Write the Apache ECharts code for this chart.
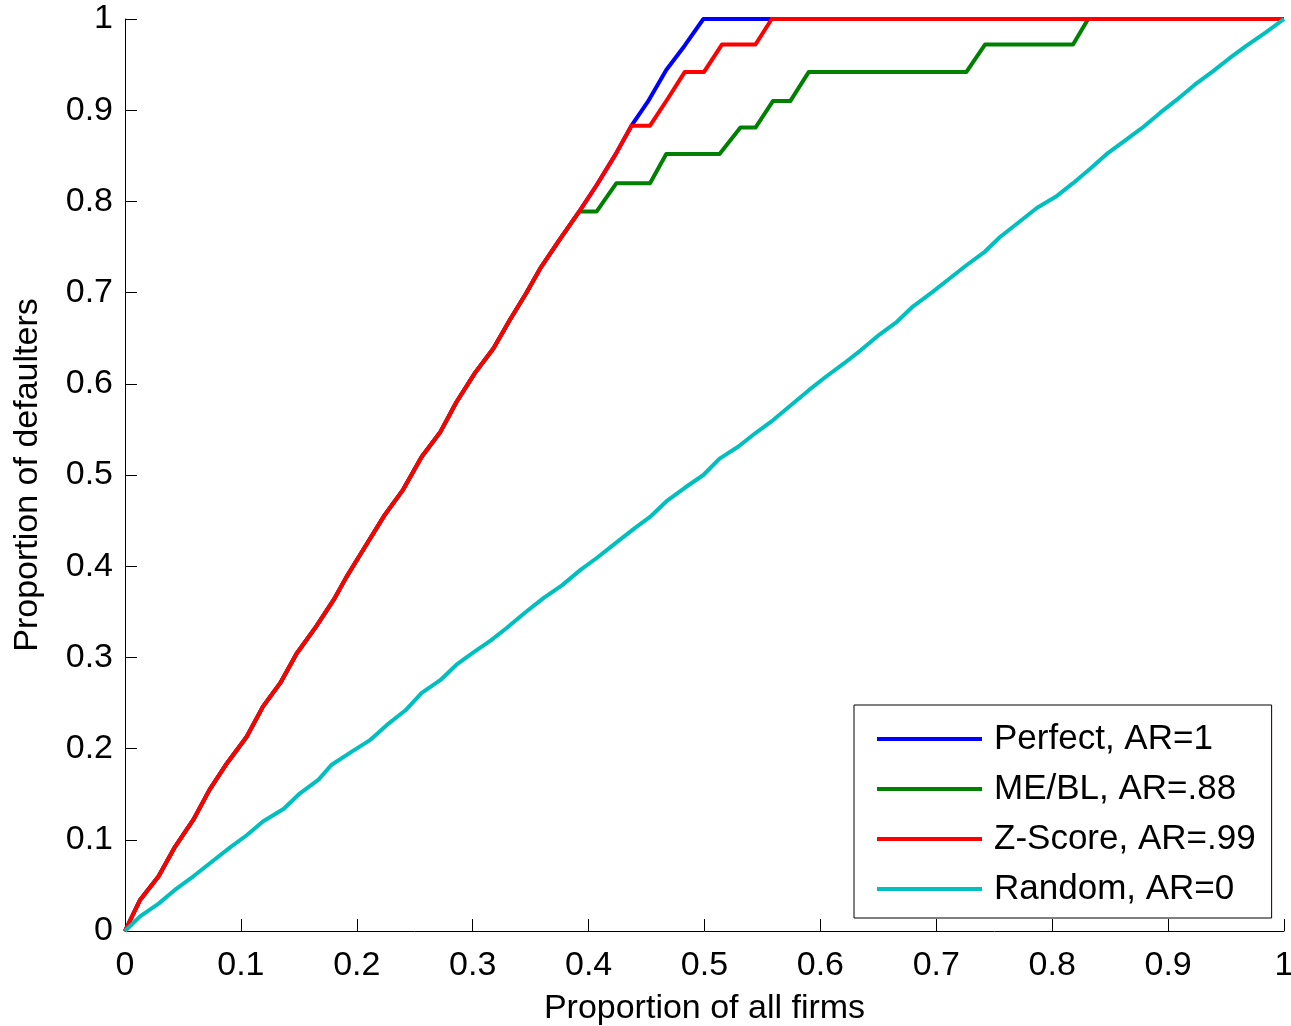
<!DOCTYPE html>
<html>
<head>
<meta charset="utf-8">
<script src="https://cdn.jsdelivr.net/npm/echarts@6/dist/echarts.min.js"></script>
<style>
  html, body { margin: 0; padding: 0; background: #fff; }
  #chart { width: 1291px; height: 1026px; }
</style>
</head>
<body>
<div id="chart"></div>
<script>
// Cumulative accuracy profiles: [proportion of all firms, proportion of defaulters]

// Shared opening segment of the Perfect, ME/BL and Z-Score curves
const sharedStart = [
  [0, 0], [0.013, 0.034], [0.029, 0.060], [0.043, 0.092], [0.059, 0.122],
  [0.073, 0.155], [0.088, 0.184], [0.105, 0.213], [0.119, 0.246], [0.134, 0.272],
  [0.148, 0.304], [0.165, 0.334], [0.180, 0.363], [0.191, 0.388], [0.207, 0.421],
  [0.224, 0.456], [0.240, 0.484], [0.256, 0.520], [0.272, 0.547], [0.286, 0.580],
  [0.302, 0.612], [0.318, 0.639], [0.332, 0.670], [0.346, 0.699], [0.359, 0.728],
  [0.375, 0.758], [0.392, 0.789]
];

// Continuation shared by Perfect and Z-Score
const upperStart = [[0.407, 0.818], [0.423, 0.851], [0.437, 0.883]];

const perfectTail = [
  [0.451, 0.909], [0.467, 0.944], [0.483, 0.971], [0.499, 1.0], [1.0, 1.0]
];

const mebTail = [
  [0.407, 0.789], [0.424, 0.820], [0.453, 0.820], [0.467, 0.852], [0.513, 0.852],
  [0.531, 0.881], [0.544, 0.881], [0.559, 0.910], [0.574, 0.910], [0.590, 0.942],
  [0.726, 0.942], [0.742, 0.972], [0.818, 0.972], [0.831, 1.0], [1.0, 1.0]
];

const zscoreTail = [
  [0.453, 0.883], [0.468, 0.912], [0.483, 0.942], [0.4996, 0.942], [0.515, 0.972],
  [0.544, 0.972], [0.558, 1.0], [1.0, 1.0]
];

const randomCurve = [
  [0, 0], [0.013, 0.016], [0.029, 0.030], [0.043, 0.045], [0.059, 0.060],
  [0.073, 0.074], [0.091, 0.092], [0.105, 0.105], [0.119, 0.120], [0.137, 0.134],
  [0.151, 0.151], [0.167, 0.166], [0.178, 0.182], [0.196, 0.197], [0.211, 0.209],
  [0.226, 0.226], [0.242, 0.242], [0.256, 0.261], [0.272, 0.275], [0.286, 0.292],
  [0.300, 0.305], [0.316, 0.319], [0.329, 0.332], [0.345, 0.349], [0.361, 0.365],
  [0.377, 0.379], [0.393, 0.396], [0.407, 0.409], [0.423, 0.425], [0.439, 0.441],
  [0.453, 0.454], [0.467, 0.471], [0.483, 0.486], [0.499, 0.500], [0.513, 0.518],
  [0.529, 0.531], [0.544, 0.546], [0.559, 0.560], [0.575, 0.577], [0.590, 0.593],
  [0.605, 0.608], [0.620, 0.622], [0.635, 0.637], [0.651, 0.654], [0.666, 0.668],
  [0.680, 0.685], [0.696, 0.700], [0.712, 0.716], [0.726, 0.730], [0.742, 0.745],
  [0.755, 0.761], [0.772, 0.778], [0.787, 0.793], [0.803, 0.805], [0.818, 0.820],
  [0.833, 0.836], [0.848, 0.853], [0.863, 0.867], [0.877, 0.880], [0.893, 0.897],
  [0.907, 0.911], [0.923, 0.928], [0.938, 0.942], [0.953, 0.957], [0.968, 0.971],
  [0.984, 0.985], [1.0, 1.0]
];

const seriesNames = ['Perfect, AR=1', 'ME/BL, AR=.88', 'Z-Score, AR=.99', 'Random, AR=0'];
const seriesColors = ['#0000ff', '#008000', '#ff0000', '#00bfbf'];

const xAxisTitle = 'Proportion of all firms';
const yAxisTitle = 'Proportion of defaulters';

const seriesData = [
  sharedStart.concat(upperStart, perfectTail),
  sharedStart.concat(mebTail),
  sharedStart.concat(upperStart, zscoreTail),
  randomCurve
];

const FONT = '"Liberation Sans", Arial, Helvetica, sans-serif';
const FS = 34;
const LEGEND_FS = 35;

const chart = echarts.init(document.getElementById('chart'), null, { renderer: 'canvas' });

chart.setOption({
  animation: false,
  backgroundColor: '#ffffff',
  grid: {
    left: 125, right: 7, top: 19, bottom: 95,
    containLabel: false,
    outerBoundsMode: 'none'
  },
  xAxis: {
    type: 'value',
    min: 0, max: 1, interval: 0.1,
    name: xAxisTitle,
    nameLocation: 'middle',
    nameGap: 61,
    nameTextStyle: { fontFamily: FONT, fontSize: FS, color: '#000' },
    axisLine: { show: true, lineStyle: { color: '#000', width: 1 } },
    axisTick: { show: true, inside: true, length: 12, lineStyle: { color: '#000' } },
    axisLabel: { fontFamily: FONT, fontSize: FS, color: '#000', margin: 18 },
    splitLine: { show: false }
  },
  yAxis: {
    type: 'value',
    min: 0, max: 1, interval: 0.1,
    name: yAxisTitle,
    nameLocation: 'middle',
    nameGap: 80,
    nameRotate: 90,
    nameTextStyle: { fontFamily: FONT, fontSize: FS, color: '#000' },
    axisLine: { show: true, lineStyle: { color: '#000', width: 1 } },
    axisTick: { show: true, inside: true, length: 12, lineStyle: { color: '#000' } },
    axisLabel: { fontFamily: FONT, fontSize: FS, color: '#000', margin: 12 },
    splitLine: { show: false }
  },
  legend: {
    orient: 'vertical',
    left: 854,
    top: 705,
    backgroundColor: '#fff',
    borderColor: '#000',
    borderWidth: 1,
    padding: [14, 16, 9, 23],
    itemGap: 10,
    itemWidth: 105,
    itemHeight: 4,
    icon: 'rect',
    data: seriesNames,
    textStyle: {
      fontFamily: FONT, fontSize: LEGEND_FS, color: '#000',
      lineHeight: 40, padding: [0, 0, 0, 7]
    }
  },
  series: seriesNames.map((name, i) => ({
    name: name,
    type: 'line',
    data: seriesData[i],
    showSymbol: false,
    symbol: 'none',
    smooth: false,
    color: seriesColors[i],
    lineStyle: { color: seriesColors[i], width: 4, join: 'round' },
    z: 2 + i
  }))
});
</script>
</body>
</html>
